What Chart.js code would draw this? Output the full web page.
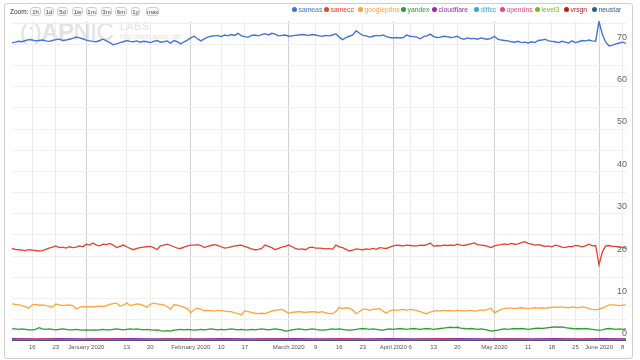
<!DOCTYPE html>
<html>
<head>
<meta charset="utf-8">
<script src="https://cdn.jsdelivr.net/npm/chart.js@4.4.0/dist/chart.umd.min.js"></script>
<style>
  html, body { margin:0; padding:0; background:#fff; }
  body { width:640px; height:360px; position:relative; overflow:hidden; font-family:"Liberation Sans", Arial, sans-serif; }
  #frame { position:absolute; left:4px; top:3px; width:629px; height:356px; border:1px solid #cfcfcf; border-radius:3px; box-sizing:border-box; }
  #wm { position:absolute; left:20px; top:20px; color:#e3e3e3; white-space:nowrap; z-index:0; }
  #wm .big { position:absolute; left:0; top:0; font-size:24px; line-height:24px; letter-spacing:-0.5px; }
  #wm .labs { position:absolute; left:100px; top:1px; font-size:10px; letter-spacing:1px; }
  #wm .url { position:absolute; left:100px; top:13px; font-size:7px; }
  canvas#c { position:absolute; left:0; top:0; z-index:1; }
  #zoom { position:absolute; left:10px; top:7px; height:10px; z-index:2; font-size:6.5px; color:#333; }
  #zoom .lab { position:absolute; left:0; top:1px; }
  #zoom .btn { position:absolute; top:0; height:9px; line-height:9px; border:1px solid #cfcfcf; border-radius:3px; font-size:6px; color:#444; text-align:center; box-sizing:border-box; background:#f8f8f8; }
  #legend { position:absolute; left:0; top:6px; z-index:2; }
  #legend .it { position:absolute; top:0; white-space:nowrap; font-size:6.8px; line-height:8px; }
  #legend .dot { display:inline-block; width:5px; height:5px; border-radius:50%; margin-right:1.5px; vertical-align:0px; }
</style>
</head>
<body>
<div id="frame"></div>
<div id="wm"><span class="big">(:)<b>AP</b><span style="font-weight:300">NIC</span></span><span class="labs">LABS</span><span class="url">http://labs.apnic.net</span></div>
<div id="zoom"></div>
<div id="legend"></div>
<canvas id="c" width="640" height="360"></canvas>
<script>
// ---- data (day 0 = 2019-12-10, daily until 2020-06-09) ----
const startDate = '2019-12-10';

const sameas = [
70.4,70.5,70.7,70.6,70.9,71.1,71.0,70.8,70.9,71.0,
70.8,70.7,70.9,71.1,71.2,70.9,71.0,71.2,71.4,71.7,
71.5,71.3,71.0,70.8,70.7,70.6,70.9,71.2,70.8,70.4,
69.9,70.1,70.4,70.6,70.9,70.7,70.6,70.8,70.5,70.7,
70.6,70.4,70.7,70.9,70.5,70.6,70.8,70.3,70.9,70.6,
70.1,70.6,71.0,71.5,71.9,71.3,70.8,71.3,71.7,71.9,
72.0,72.1,71.8,72.2,72.0,72.3,72.1,72.6,72.0,71.8,
71.7,72.1,72.2,72.0,72.3,72.5,72.2,72.6,72.4,72.0,
72.1,72.2,71.9,72.0,72.1,72.2,72.3,72.2,72.1,72.3,
72.2,72.0,71.9,72.1,72.0,72.2,72.5,71.7,71.1,71.6,
71.9,72.2,73.2,72.6,72.1,72.0,71.7,71.9,72.1,72.0,
72.2,71.8,71.6,71.5,71.6,71.5,71.6,72.2,71.9,71.8,
71.7,71.3,71.8,72.0,72.4,71.8,71.6,71.7,71.9,71.8,
71.6,71.7,71.9,71.4,71.2,71.5,71.3,71.4,71.2,71.5,
71.3,71.2,71.4,71.9,71.2,71.0,70.9,70.8,70.6,70.5,
70.7,70.4,70.5,70.3,70.6,70.4,70.9,71.0,71.2,70.8,
70.7,70.6,70.4,70.7,70.5,70.3,70.8,70.4,70.6,70.9,
70.8,71.0,70.8,70.7,75.4,72.3,70.5,69.6,69.8,70.1,
70.3,70.5,70.2];

const samecc = [
21.8,21.6,21.5,21.4,21.3,21.5,21.4,21.3,21.2,21.3,
21.6,21.9,22.1,22.4,22.0,22.1,21.9,22.2,22.0,22.1,
22.4,22.2,22.8,22.6,23.1,22.6,22.4,22.8,22.7,23.0,
22.6,22.0,22.3,22.6,22.2,21.8,21.5,21.8,22.0,22.1,
22.2,22.3,22.0,21.5,22.4,22.6,22.8,22.5,22.2,21.9,
21.8,22.1,22.4,22.6,22.6,22.7,22.5,22.0,22.3,22.5,
22.7,22.5,22.2,21.9,22.0,22.2,22.4,22.5,22.6,22.3,
22.0,21.7,21.5,21.6,21.8,22.6,22.3,22.0,21.5,21.8,
22.1,22.3,22.6,22.2,21.8,21.6,21.7,21.5,22.0,22.1,
21.9,21.9,21.8,21.7,21.8,21.6,22.6,22.2,22.0,21.6,
21.2,21.4,21.7,21.6,21.5,21.7,21.6,21.8,21.6,22.0,
21.9,21.8,22.1,22.4,22.6,22.5,22.4,22.6,22.5,22.4,
22.4,22.6,22.5,22.7,23.1,22.3,22.5,22.4,22.6,22.5,
22.6,22.5,22.8,22.6,22.5,22.7,22.9,23.1,22.7,22.6,
22.5,22.3,22.0,22.4,22.6,22.7,22.9,22.7,23.0,22.8,
22.9,23.2,23.4,23.0,22.8,22.6,22.7,22.5,22.3,22.4,
22.2,22.6,22.4,22.1,22.0,22.3,22.2,22.5,22.4,22.2,
22.4,22.8,22.4,22.5,17.9,21.0,22.4,22.5,22.3,22.3,
22.1,22.0,21.9];

const googlepdns = [
8.7,8.6,8.5,8.3,8.0,7.7,8.5,8.6,8.4,8.5,
8.3,8.2,7.9,8.7,8.5,8.3,8.4,8.5,8.3,7.5,
7.9,8.1,8.0,8.1,8.0,8.1,8.2,8.1,8.3,8.6,
8.8,8.9,8.2,8.4,8.9,8.3,8.5,8.7,8.6,8.3,
7.9,8.6,8.9,8.7,8.6,8.5,8.1,7.5,8.5,8.4,
8.2,7.9,7.6,6.6,7.4,7.7,7.5,7.1,7.2,7.1,
7.0,7.2,7.1,7.0,6.9,6.9,6.6,6.4,6.1,7.1,
6.9,6.7,6.5,6.4,6.5,6.4,6.7,7.0,7.2,7.3,
7.4,7.0,6.5,6.7,6.8,6.9,6.8,6.7,6.8,6.9,
6.8,6.7,6.9,6.6,6.4,6.4,6.9,7.9,7.6,7.8,
7.7,7.3,6.4,6.9,7.5,7.5,7.2,7.4,7.5,7.6,
7.0,6.5,7.1,7.3,7.2,7.3,7.4,7.2,7.4,7.3,
7.1,6.9,6.6,6.4,6.8,7.0,7.1,7.0,7.2,7.1,
7.1,7.0,7.2,7.1,7.0,7.1,7.2,7.0,7.1,7.3,
7.2,7.4,7.7,6.6,7.0,7.4,7.6,7.7,7.7,7.6,
7.7,7.8,7.7,7.6,7.7,7.8,7.7,7.8,7.7,7.8,
7.9,8.0,7.9,8.0,7.9,7.8,8.0,7.9,7.8,8.0,
7.9,7.6,7.4,7.3,7.5,7.7,8.1,8.5,8.5,8.4,
8.3,8.4,8.5];

const yandex = [
2.8,2.8,2.7,2.8,2.7,2.6,2.6,2.7,3.1,2.8,
2.7,2.8,2.7,2.6,2.7,2.8,2.7,2.6,2.6,2.7,
2.6,2.5,2.6,2.5,2.6,2.5,2.6,2.7,2.6,2.6,
2.7,2.8,2.7,2.6,2.7,2.8,2.7,2.8,2.7,2.6,
2.7,2.6,2.5,2.6,2.4,2.3,2.4,2.3,2.5,2.6,
2.7,2.6,2.7,2.6,2.5,2.6,2.7,2.6,2.7,2.8,
2.7,2.6,2.7,2.6,2.7,2.8,2.7,2.6,2.7,2.6,
2.6,2.7,2.6,2.7,2.8,2.7,2.6,2.7,2.8,2.7,
2.6,2.3,2.4,2.6,2.7,2.8,2.7,2.6,2.7,2.8,
2.7,2.6,2.5,2.6,2.7,2.8,2.7,2.8,2.7,2.6,
2.5,2.6,2.7,2.8,2.9,2.8,2.7,2.8,2.7,2.6,
2.5,2.7,2.8,2.7,2.8,2.9,2.8,2.7,2.8,2.9,
2.8,2.7,2.8,2.9,2.8,2.7,2.8,2.9,3.0,3.1,
3.2,3.1,3.2,3.0,2.9,2.8,2.9,2.8,2.7,2.8,
2.7,2.5,2.3,2.4,2.5,2.7,2.8,2.7,2.8,2.9,
2.8,2.9,2.8,2.7,2.8,2.9,3.0,2.9,3.0,3.1,
3.2,3.3,3.2,3.3,3.1,3.0,2.9,2.8,2.9,2.8,
2.9,2.8,2.7,2.6,2.5,2.6,2.8,2.9,2.8,2.7,
2.8,2.7,2.8];

// small series, read weekly
const weeklyDays = [0,7,14,21,28,35,42,49,56,63,70,77,84,91,98,105,112,119,126,133,140,147,154,161,168,175,182];
const cloudflare = [0.5,0.4,0.5,0.4,0.5,0.5,0.4,0.5,0.4,0.5,0.4,0.5,0.5,0.4,0.5,0.4,0.5,0.4,0.5,0.5,0.4,0.5,0.4,0.5,0.4,0.5,0.4];
const diffcc     = [0.1,0.1,0.1,0.1,0.1,0.1,0.1,0.1,0.1,0.1,0.1,0.1,0.1,0.1,0.1,0.1,0.1,0.1,0.1,0.1,0.1,0.1,0.1,0.1,0.1,0.1,0.1];
const opendns    = [0.3,0.4,0.3,0.3,0.4,0.3,0.3,0.4,0.3,0.3,0.3,0.4,0.3,0.3,0.4,0.3,0.3,0.3,0.4,0.3,0.3,0.4,0.3,0.3,0.4,0.3,0.3];
const level3     = [0.1,0.1,0.1,0.1,0.1,0.1,0.1,0.1,0.1,0.1,0.1,0.1,0.1,0.1,0.1,0.1,0.1,0.1,0.1,0.1,0.1,0.1,0.1,0.1,0.1,0.1,0.1];
const vrsgn      = [0.1,0.1,0.1,0.1,0.1,0.1,0.1,0.1,0.1,0.1,0.1,0.1,0.1,0.1,0.1,0.1,0.1,0.1,0.1,0.1,0.1,0.1,0.1,0.1,0.1,0.1,0.1];
const neustar    = [0.0,0.0,0.0,0.0,0.0,0.0,0.0,0.0,0.0,0.0,0.0,0.0,0.0,0.0,0.0,0.0,0.0,0.0,0.0,0.0,0.0,0.0,0.0,0.0,0.0,0.0,0.0];

const seriesNames = ['sameas','samecc','googlepdns','yandex','cloudflare','diffcc','opendns','level3','vrsgn','neustar'];

// tick labels
const xTickDays   = [6,13,22,34,41,53,62,69,82,90,97,104,113,118,125,132,143,153,160,167,174,181];
const xTickLabels = ['16','23','January 2020','13','20','February 2020','10','17','March 2020','9','16','23','April 2020','6','13','20','May 2020','11','18','25','June 2020','8'];
const monthTickDays = [22,53,82,113,143,174];
const yGridValues = [0,5,10,15,20,25,30,35,40,45,50,55,60,65,70,75];
const zoomButtons = ['1h','1d','5d','1w','1m','3m','6m','1y','max'];

// ---- styling ----
const colors = {
  sameas:'#4373d6', samecc:'#e2432b', googlepdns:'#fda43a', yandex:'#2e9b31',
  cloudflare:'#9b27a8', diffcc:'#3aa6d8', opendns:'#e8457c', level3:'#7cb728',
  vrsgn:'#b41f1f', neustar:'#2f5b8c'
};

// zoom bar
const zb = document.getElementById('zoom');
const zl = document.createElement('span'); zl.className='lab'; zl.textContent='Zoom:'; zb.appendChild(zl);
const btnLeft = [20,34,47,62,76,91,105,121,136];
const btnW = [11,10,11,11,11,11,12,9,13];
zoomButtons.forEach((t,i)=>{
  const b=document.createElement('span'); b.className='btn'; b.textContent=t;
  b.style.left=btnLeft[i]+'px'; b.style.width=btnW[i]+'px'; zb.appendChild(b);
});

// legend
const lg = document.getElementById('legend');
const legX = [292,324,358,401,432,474,500,535,564,592];
seriesNames.forEach((n,i)=>{
  const it=document.createElement('span'); it.className='it';
  it.style.left=legX[i]+'px'; it.style.color=colors[n];
  const d=document.createElement('span'); d.className='dot'; d.style.background=colors[n];
  it.appendChild(d); it.appendChild(document.createTextNode(n)); lg.appendChild(it);
});

const daily = arr => arr.map((v,i)=>({x:i,y:v}));
const weekly = arr => arr.map((v,i)=>({x:weeklyDays[i],y:v}));
const ds = (name, data, w) => ({label:name, data, borderColor:colors[name], backgroundColor:colors[name], borderWidth:w, pointRadius:0, tension:0, fill:false});

new Chart(document.getElementById('c'), {
  type:'line',
  data:{ datasets:[
    ds('neustar', weekly(neustar), 1.5),
    ds('vrsgn', weekly(vrsgn), 1.2),
    ds('level3', weekly(level3), 1.2),
    ds('diffcc', weekly(diffcc), 1.2),
    ds('opendns', weekly(opendns), 1.2),
    ds('cloudflare', weekly(cloudflare), 1.5),
    ds('yandex', daily(yandex), 1.3),
    ds('googlepdns', daily(googlepdns), 1.3),
    ds('samecc', daily(samecc), 1.3),
    ds('sameas', daily(sameas), 1.4)
  ]},
  options:{
    responsive:false, animation:false, devicePixelRatio:1,
    layout:{ padding:{left:12, right:12, top:21, bottom:6} },
    plugins:{ legend:{display:false}, tooltip:{enabled:false} },
    scales:{
      x:{ type:'linear', min:0, max:182,
        afterBuildTicks: a => { a.ticks = xTickDays.map(v=>({value:v})); },
        ticks:{ autoSkip:false, maxRotation:0, minRotation:0, padding:3, color:'#555',
          font:{family:'"Liberation Sans", Arial, sans-serif', size:6},
          callback:(v,i)=>xTickLabels[i] },
        grid:{ drawTicks:false, lineWidth:1,
          color: c => (c.tick && monthTickDays.includes(c.tick.value)) ? '#d2d2d2' : '#ececec' },
        border:{display:false}
      },
      y:{ position:'right', min:0, max:75.5,
        afterBuildTicks: a => { a.ticks = yGridValues.map(v=>({value:v})); },
        ticks:{ mirror:true, padding:1, labelOffset:-7, color:'#666',
          font:{family:'"Liberation Sans", Arial, sans-serif', size:9},
          callback: v => (v % 10 === 0) ? String(v) : '' },
        grid:{ drawTicks:false, color:'#f0f0f0', lineWidth:1 },
        border:{display:false}
      }
    }
  }
});
</script>
</body>
</html>
